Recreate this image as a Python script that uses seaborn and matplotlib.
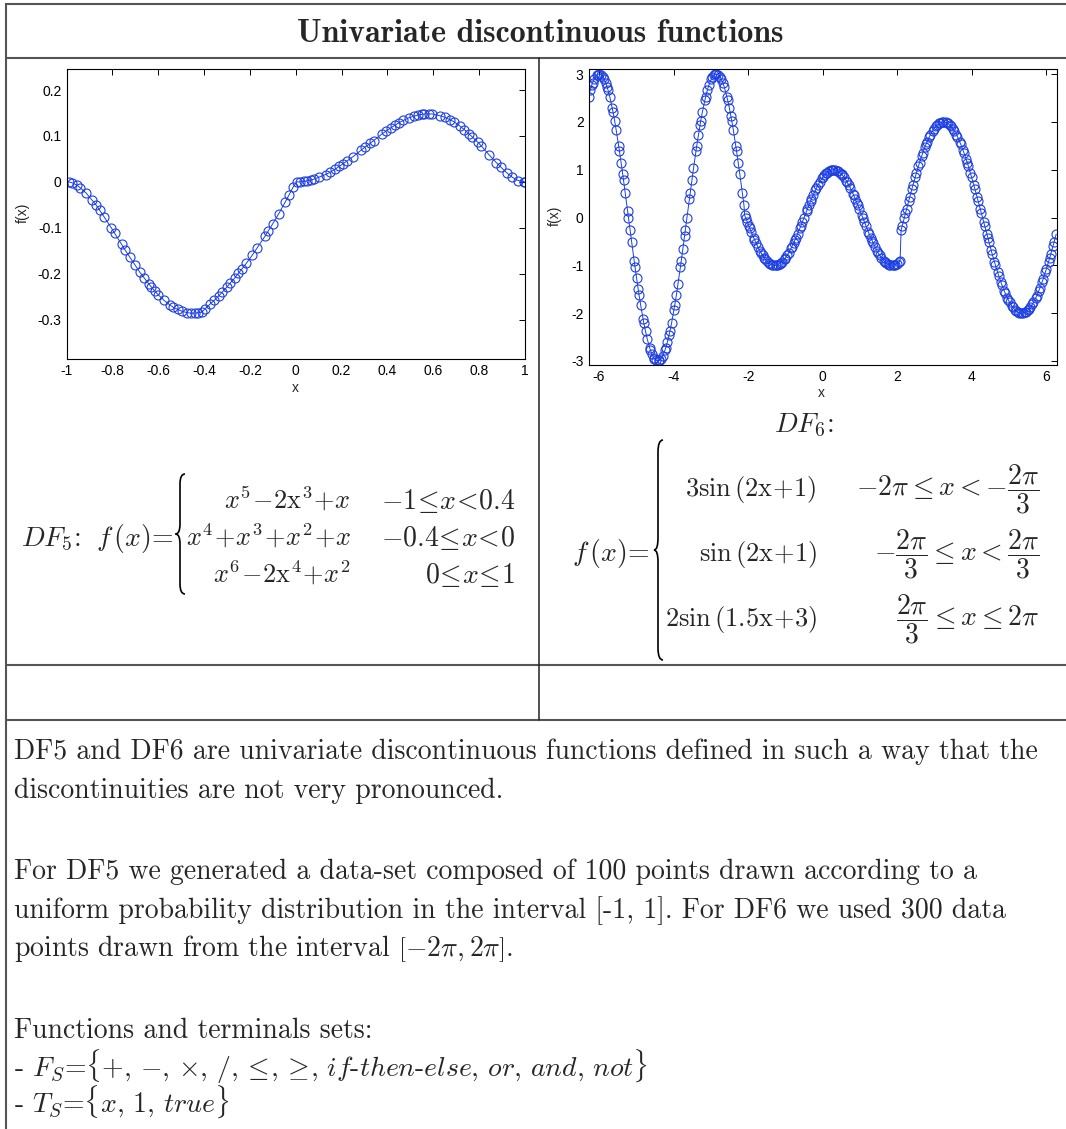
import matplotlib
matplotlib.use("Agg")
import numpy as np
import pandas as pd
import seaborn as sns
import matplotlib.pyplot as plt
from matplotlib.path import Path
from matplotlib.patches import PathPatch
from matplotlib.ticker import FixedLocator, FuncFormatter

# ---------------- DF5 samples (x in [-1, 1]) ----------------
df5_x = [-0.99, -0.975, -0.955, -0.94, -0.915, -0.89, -0.87, -0.855, -0.835, -0.805,
         -0.79, -0.76, -0.745, -0.725, -0.70, -0.68, -0.66, -0.64, -0.63, -0.615,
         -0.60, -0.575, -0.55, -0.535, -0.515, -0.495, -0.475, -0.455, -0.44, -0.425,
         -0.41,
         -0.395, -0.375, -0.355, -0.335, -0.32, -0.30, -0.285, -0.265, -0.25, -0.235,
         -0.215, -0.19, -0.17, -0.135, -0.12, -0.10, -0.075, -0.045, -0.03, -0.012,
         0.005, 0.02, 0.035, 0.05, 0.065, 0.08, 0.10, 0.13, 0.15, 0.17,
         0.19, 0.205, 0.225, 0.25, 0.285, 0.30, 0.325, 0.34, 0.375, 0.395,
         0.415, 0.435, 0.45, 0.47, 0.495, 0.515, 0.535, 0.55, 0.56, 0.58,
         0.595, 0.63, 0.65, 0.675, 0.69, 0.715, 0.735, 0.755, 0.77, 0.795,
         0.81, 0.845, 0.875, 0.895, 0.92, 0.945, 0.97, 0.995, 1.0]
df5_y = [-0.000, -0.002, -0.007, -0.013, -0.024, -0.039, -0.051, -0.062, -0.077, -0.100,
         -0.112, -0.136, -0.148, -0.163, -0.182, -0.197, -0.210, -0.223, -0.229, -0.238,
         -0.246, -0.258, -0.268, -0.273, -0.278, -0.282, -0.285, -0.286, -0.286, -0.285,
         -0.284,
         -0.276, -0.267, -0.258, -0.248, -0.240, -0.229, -0.220, -0.209, -0.199, -0.190,
         -0.177, -0.160, -0.145, -0.119, -0.107, -0.091, -0.070, -0.043, -0.029, -0.012,
         0.000, 0.000, 0.001, 0.002, 0.004, 0.006, 0.010, 0.016, 0.021, 0.027,
         0.034, 0.039, 0.046, 0.055, 0.069, 0.075, 0.084, 0.090, 0.104, 0.111,
         0.118, 0.124, 0.129, 0.134, 0.140, 0.143, 0.146, 0.147, 0.148, 0.148,
         0.148, 0.144, 0.141, 0.135, 0.131, 0.122, 0.114, 0.105, 0.098, 0.086,
         0.078, 0.058, 0.042, 0.032, 0.020, 0.010, 0.003, 0.000, 0.000]

# ---------------- DF6 samples, one pair of lists per branch ----------------
df6_xa = [-6.281, -6.238, -6.194, -6.172, -6.129, -6.063, -6.041, -5.998, -5.954, -5.889,
          -5.867, -5.823, -5.780, -5.758, -5.714, -5.649, -5.627, -5.583, -5.540, -5.474,
          -5.452, -5.409, -5.365, -5.343, -5.300, -5.234, -5.212, -5.169, -5.125, -5.060,
          -5.038, -4.994, -4.951, -4.929, -4.885, -4.820, -4.798, -4.754, -4.711, -4.645,
          -4.623, -4.580, -4.536, -4.514, -4.471, -4.405, -4.383, -4.340, -4.296, -4.231,
          -4.209, -4.165, -4.122, -4.100, -4.056, -3.991, -3.969, -3.925, -3.882, -3.816,
          -3.794, -3.751, -3.707, -3.685, -3.642, -3.576, -3.554, -3.511, -3.467, -3.402,
          -3.380, -3.336, -3.292, -3.271, -3.227, -3.162, -3.140, -3.096, -3.053, -2.987,
          -2.965, -2.922, -2.878, -2.856, -2.813, -2.747, -2.725, -2.682, -2.638, -2.573,
          -2.551, -2.507, -2.463, -2.442, -2.398, -2.333, -2.311, -2.267, -2.224, -2.158,
          -2.114]
df6_ya = [2.530, 2.661, 2.772, 2.819, 2.898, 2.974, 2.989, 3.000, 2.989, 2.929,
          2.898, 2.819, 2.719, 2.661, 2.530, 2.298, 2.212, 2.027, 1.826, 1.500,
          1.385, 1.148, 0.902, 0.776, 0.521, 0.131, 0.000, -0.262, -0.521, -0.902,
          -1.026, -1.268, -1.500, -1.612, -1.826, -2.121, -2.212, -2.380, -2.530, -2.719,
          -2.772, -2.861, -2.929, -2.954, -2.989, -2.997, -2.989, -2.954, -2.898, -2.772,
          -2.719, -2.598, -2.458, -2.380, -2.212, -1.928, -1.826, -1.612, -1.385, -1.026,
          -0.902, -0.649, -0.392, -0.262, 0.000, 0.392, 0.521, 0.776, 1.026, 1.385,
          1.500, 1.721, 1.928, 2.027, 2.212, 2.458, 2.530, 2.661, 2.772, 2.898,
          2.929, 2.974, 2.997, 3.000, 2.989, 2.929, 2.898, 2.819, 2.719, 2.530,
          2.458, 2.298, 2.121, 2.027, 1.826, 1.500, 1.385, 1.148, 0.902, 0.521,
          0.262]

df6_xb = [-2.093, -2.070, -2.027, -1.984, -1.962, -1.918, -1.853, -1.831, -1.787, -1.744,
          -1.678, -1.656, -1.613, -1.569, -1.547, -1.504, -1.438, -1.416, -1.373, -1.329,
          -1.264, -1.242, -1.198, -1.155, -1.133, -1.089, -1.024, -1.002, -0.958, -0.915,
          -0.849, -0.827, -0.784, -0.740, -0.718, -0.675, -0.609, -0.587, -0.544, -0.500,
          -0.435, -0.413, -0.369, -0.326, -0.304, -0.260, -0.195, -0.173, -0.129, -0.086,
          -0.020, 0.002, 0.045, 0.089, 0.111, 0.155, 0.220, 0.242, 0.285, 0.329,
          0.395, 0.416, 0.460, 0.504, 0.525, 0.569, 0.635, 0.656, 0.700, 0.744,
          0.809, 0.831, 0.875, 0.918, 0.940, 0.984, 1.049, 1.071, 1.114, 1.158,
          1.224, 1.245, 1.289, 1.333, 1.354, 1.398, 1.463, 1.485, 1.529, 1.572,
          1.638, 1.660, 1.703, 1.747, 1.769, 1.812, 1.878, 1.900, 1.943, 1.987,
          2.053, 2.074]
df6_yb = [0.044, 0.000, -0.087, -0.174, -0.216, -0.301, -0.423, -0.462, -0.537, -0.609,
          -0.707, -0.737, -0.793, -0.843, -0.866, -0.906, -0.954, -0.966, -0.985, -0.996,
          -0.999, -0.996, -0.985, -0.966, -0.954, -0.924, -0.866, -0.843, -0.793, -0.737,
          -0.643, -0.609, -0.537, -0.462, -0.423, -0.342, -0.216, -0.174, -0.087, 0.000,
          0.131, 0.174, 0.259, 0.342, 0.383, 0.462, 0.574, 0.609, 0.676, 0.737,
          0.819, 0.843, 0.887, 0.924, 0.940, 0.966, 0.991, 0.996, 1.000, 0.996,
          0.976, 0.966, 0.940, 0.906, 0.887, 0.843, 0.766, 0.737, 0.676, 0.609,
          0.500, 0.462, 0.383, 0.301, 0.259, 0.174, 0.044, 0.000, -0.087, -0.174,
          -0.301, -0.342, -0.423, -0.500, -0.537, -0.609, -0.707, -0.737, -0.793, -0.843,
          -0.906, -0.924, -0.954, -0.976, -0.985, -0.996, -0.999, -0.996, -0.985, -0.966,
          -0.924, -0.906]

df6_xc = [2.102, 2.131, 2.189, 2.218, 2.247, 2.305, 2.334, 2.392, 2.421, 2.480, 2.509, 2.567, 2.596,
          2.654, 2.683, 2.741, 2.771, 2.800, 2.858, 2.887, 2.945, 2.974, 3.032, 3.061, 3.120, 3.149,
          3.207, 3.236, 3.294, 3.323, 3.352, 3.411, 3.440, 3.498, 3.527, 3.585, 3.614, 3.672, 3.701,
          3.760, 3.789, 3.847, 3.876, 3.905, 3.963, 3.992, 4.050, 4.080, 4.138, 4.167, 4.225, 4.254,
          4.312, 4.341, 4.400, 4.429, 4.458, 4.516, 4.545, 4.603, 4.632, 4.690, 4.720, 4.778, 4.807,
          4.865, 4.894, 4.952, 4.981, 5.010, 5.069, 5.098, 5.156, 5.185, 5.243, 5.272, 5.330, 5.359,
          5.418, 5.447, 5.505, 5.534, 5.563, 5.621, 5.650, 5.709, 5.738, 5.796, 5.825, 5.883, 5.912,
          5.970, 5.999, 6.058, 6.087, 6.116, 6.174, 6.203, 6.261]
df6_yc = [-0.261, -0.174, 0.000, 0.087, 0.174, 0.347, 0.433, 0.601, 0.684, 0.845, 0.923, 1.075, 1.147,
          1.286, 1.351, 1.475, 1.532, 1.587, 1.687, 1.732, 1.813, 1.848, 1.907, 1.932, 1.970, 1.983,
          1.998, 2.000, 1.992, 1.983, 1.970, 1.932, 1.907, 1.848, 1.813, 1.732, 1.687, 1.587, 1.532,
          1.414, 1.351, 1.218, 1.147, 1.075, 0.923, 0.845, 0.684, 0.601, 0.433, 0.347, 0.174, 0.087,
          -0.087, -0.174, -0.347, -0.433, -0.518, -0.684, -0.765, -0.923, -1.000, -1.147, -1.218, -1.351, -1.414,
          -1.532, -1.587, -1.687, -1.732, -1.774, -1.848, -1.879, -1.932, -1.953, -1.983, -1.992, -2.000, -1.998,
          -1.983, -1.970, -1.932, -1.907, -1.879, -1.813, -1.774, -1.687, -1.638, -1.532, -1.475, -1.351, -1.286,
          -1.147, -1.075, -0.923, -0.845, -0.765, -0.601, -0.518, -0.347]

# ---------------- ticks ----------------
df5_xticks = [-1, -0.8, -0.6, -0.4, -0.2, 0, 0.2, 0.4, 0.6, 0.8, 1]
df5_yticks = [-0.3, -0.2, -0.1, 0, 0.1, 0.2]
df6_xticks = [-6, -4, -2, 0, 2, 4, 6]
df6_yticks = [-3, -2, -1, 0, 1, 2, 3]

# ---------------- text ----------------
title = "Univariate discontinuous functions"
body_lines = [
    "DF5 and DF6 are univariate discontinuous functions defined in such a way that the",
    "discontinuities are not very pronounced.",
    "For DF5 we generated a data-set composed of 100 points drawn according to a",
    "uniform probability distribution in the interval [-1, 1]. For DF6 we used 300 data",
    r"points drawn from the interval $\left[-2\pi,2\pi\right]$.",
    "Functions and terminals sets:",
    r"- $F_S$=$\{{+},\,{-},\,{\times},\,/,\,\!\leq\!,\,\!\geq\!,\,\mathit{if}$-$\mathit{then}$-$\mathit{else},\,\mathit{or},\,\mathit{and},\,\mathit{not}\}$",
    r"- $T_S$=$\{x,\,1,\,\mathit{true}\}$",
]
body_baselines = [759, 798, 879, 918, 956, 1038, 1077, 1113]

sns.set_style("white")
plt.rcParams["font.family"] = ["Liberation Sans", "DejaVu Sans"]
plt.rcParams["mathtext.fontset"] = "cm"
plt.rcParams["axes.unicode_minus"] = False

W, H = 1066, 1129
fig = plt.figure(figsize=(W / 100, H / 100), dpi=100)
fig.patch.set_facecolor("white")


def px_axes(left, top, right, bottom):
    return fig.add_axes([left / W, 1 - bottom / H, (right - left) / W, (bottom - top) / H])


blue = "#1d3fe2"


def draw_series(ax, xs, ys):
    data = pd.DataFrame({"x": xs, "y": ys})
    sns.lineplot(data=data, x="x", y="y", ax=ax, estimator=None, sort=True,
                 color=blue, linewidth=0.7, marker="o", markersize=6.5,
                 markerfacecolor="none", markeredgecolor=blue, markeredgewidth=0.8)


def tick_fmt(v, pos):
    v = round(v, 6) + 0.0
    return f"{v:g}"


def style_axes(ax, xlim, ylim, xt, yt, xlab_pos, ylab_pos):
    ax.set_xlim(*xlim)
    ax.set_ylim(*ylim)
    ax.xaxis.set_major_locator(FixedLocator(xt))
    ax.yaxis.set_major_locator(FixedLocator(yt))
    ax.xaxis.set_major_formatter(FuncFormatter(tick_fmt))
    ax.yaxis.set_major_formatter(FuncFormatter(tick_fmt))
    ax.tick_params(direction="in", top=True, right=True, length=4, width=0.7,
                   labelsize=10, pad=3.5, color="black", labelcolor="black")
    for sp in ax.spines.values():
        sp.set_visible(True)
        sp.set_color("black")
        sp.set_linewidth(0.8)
    ax.set_facecolor("white")
    ax.set_xlabel("x", fontsize=10)
    ax.set_ylabel("f(x)", fontsize=10)
    ax.xaxis.label.set_va("center")
    ax.yaxis.label.set_va("center")
    ax.xaxis.set_label_coords(*xlab_pos)
    ax.yaxis.set_label_coords(*ylab_pos)


ax5 = px_axes(66.5, 69, 525, 359)
draw_series(ax5, df5_x, df5_y)
style_axes(ax5, (-1, 1), (-0.386, 0.246), df5_xticks, df5_yticks,
           (0.5, -0.10), (-0.095, 0.503))

ax6 = px_axes(588.5, 69, 1057, 365)
df6_x = df6_xa + df6_xb + df6_xc
df6_y = df6_ya + df6_yb + df6_yc
draw_series(ax6, df6_x, df6_y)
style_axes(ax6, (-2 * np.pi, 2 * np.pi), (-3.084, 3.105), df6_xticks, df6_yticks,
           (0.498, -0.095), (-0.0715, 0.503))

# ---------------- overlay in pixel coordinates: table rules and text ----------------
ov = fig.add_axes([0, 0, 1, 1])
ov.set_xlim(0, W)
ov.set_ylim(H, 0)
ov.axis("off")

rule = dict(color="#555555", lw=1.5, solid_capstyle="butt")
ov.plot([5, W], [3.5, 3.5], **rule)
ov.plot([5, W], [57.5, 57.5], **rule)
ov.plot([5, W], [664.5, 664.5], **rule)
ov.plot([5, W], [719.5, 719.5], **rule)
ov.plot([5.5, 5.5], [3, H], **rule)
ov.plot([538.5, 538.5], [57.5, 719.5], color="#222222", lw=1.1)

ov.text(540, 42, title, fontfamily="cmb10", fontsize=23, ha="center", va="baseline")


def brace(xl, xm, xr, y0, y1, h=10):
    ym = (y0 + y1) / 2
    verts = [(xr, y0), (xm, y0), (xm, y0 + h), (xm, ym - h), (xm, ym), (xl, ym),
             (xm, ym), (xm, ym + h), (xm, y1 - h), (xm, y1), (xr, y1)]
    codes = [Path.MOVETO, Path.CURVE3, Path.CURVE3, Path.LINETO, Path.CURVE3, Path.CURVE3,
             Path.CURVE3, Path.CURVE3, Path.LINETO, Path.CURVE3, Path.CURVE3]
    ov.add_patch(PathPatch(Path(verts, codes), fill=False, lw=1.2, edgecolor="black"))


fs = 20
mt = dict(fontfamily="cmr10", fontsize=fs, va="baseline")
mt_small = dict(mt, fontsize=19)

# DF5 definition
ov.text(21, 546, r"$DF_5$:", ha="left", **mt)
ov.text(96, 546, r"$f\,(x)\!=\!$", ha="left", **mt)
brace(175.5, 180, 185, 474, 594)
df5_funcs = [r"$x^5\!-\!2\mathrm{x}^3\!+\!x$",
             r"$x^4\!+\!x^3\!+\!x^2\!+\!x$",
             r"$x^6\!-\!2\mathrm{x}^4\!+\!x^2$"]
df5_conds = [r"$-1\!\leq\!x\!<\!0.4$",
             r"$-0.4\!\leq\!x\!<\!0$",
             r"$0\!\leq\!x\!\leq\!1$"]
for yb, fn, cd in zip([509, 546, 583], df5_funcs, df5_conds):
    ov.text(351, yb, fn, ha="right", **mt_small)
    ov.text(515, yb, cd, ha="right", **mt)

# DF6 definition
ov.text(804, 432, r"$DF_6$:", ha="center", **mt)
ov.text(572, 561, r"$f\,(x)\!=\!$", ha="left", **mt)
brace(654, 658, 663, 440, 660, h=12)
df6_funcs = [r"$3\mathrm{sin}\,(2\mathrm{x}\!+\!1)$",
             r"$\mathrm{sin}\,(2\mathrm{x}\!+\!1)$",
             r"$2\mathrm{sin}\,(1.5\mathrm{x}\!+\!3)$"]
df6_conds = [r"$-2\pi\leq x<{-\dfrac{2\pi}{3}}$",
             r"${-\dfrac{2\pi}{3}}\leq x<\dfrac{2\pi}{3}$",
             r"$\dfrac{2\pi}{3}\leq x\leq 2\pi$"]
for yb, fn, cd in zip([496, 561, 626], df6_funcs, df6_conds):
    ov.text(817, yb, fn, ha="right", **mt_small)
    ov.text(1039, yb, cd, ha="right", **mt)

# description text
for yb, line in zip(body_baselines, body_lines):
    ov.text(14, yb, line, ha="left", **mt)

fig.savefig("out.png", dpi=100, facecolor="white")
